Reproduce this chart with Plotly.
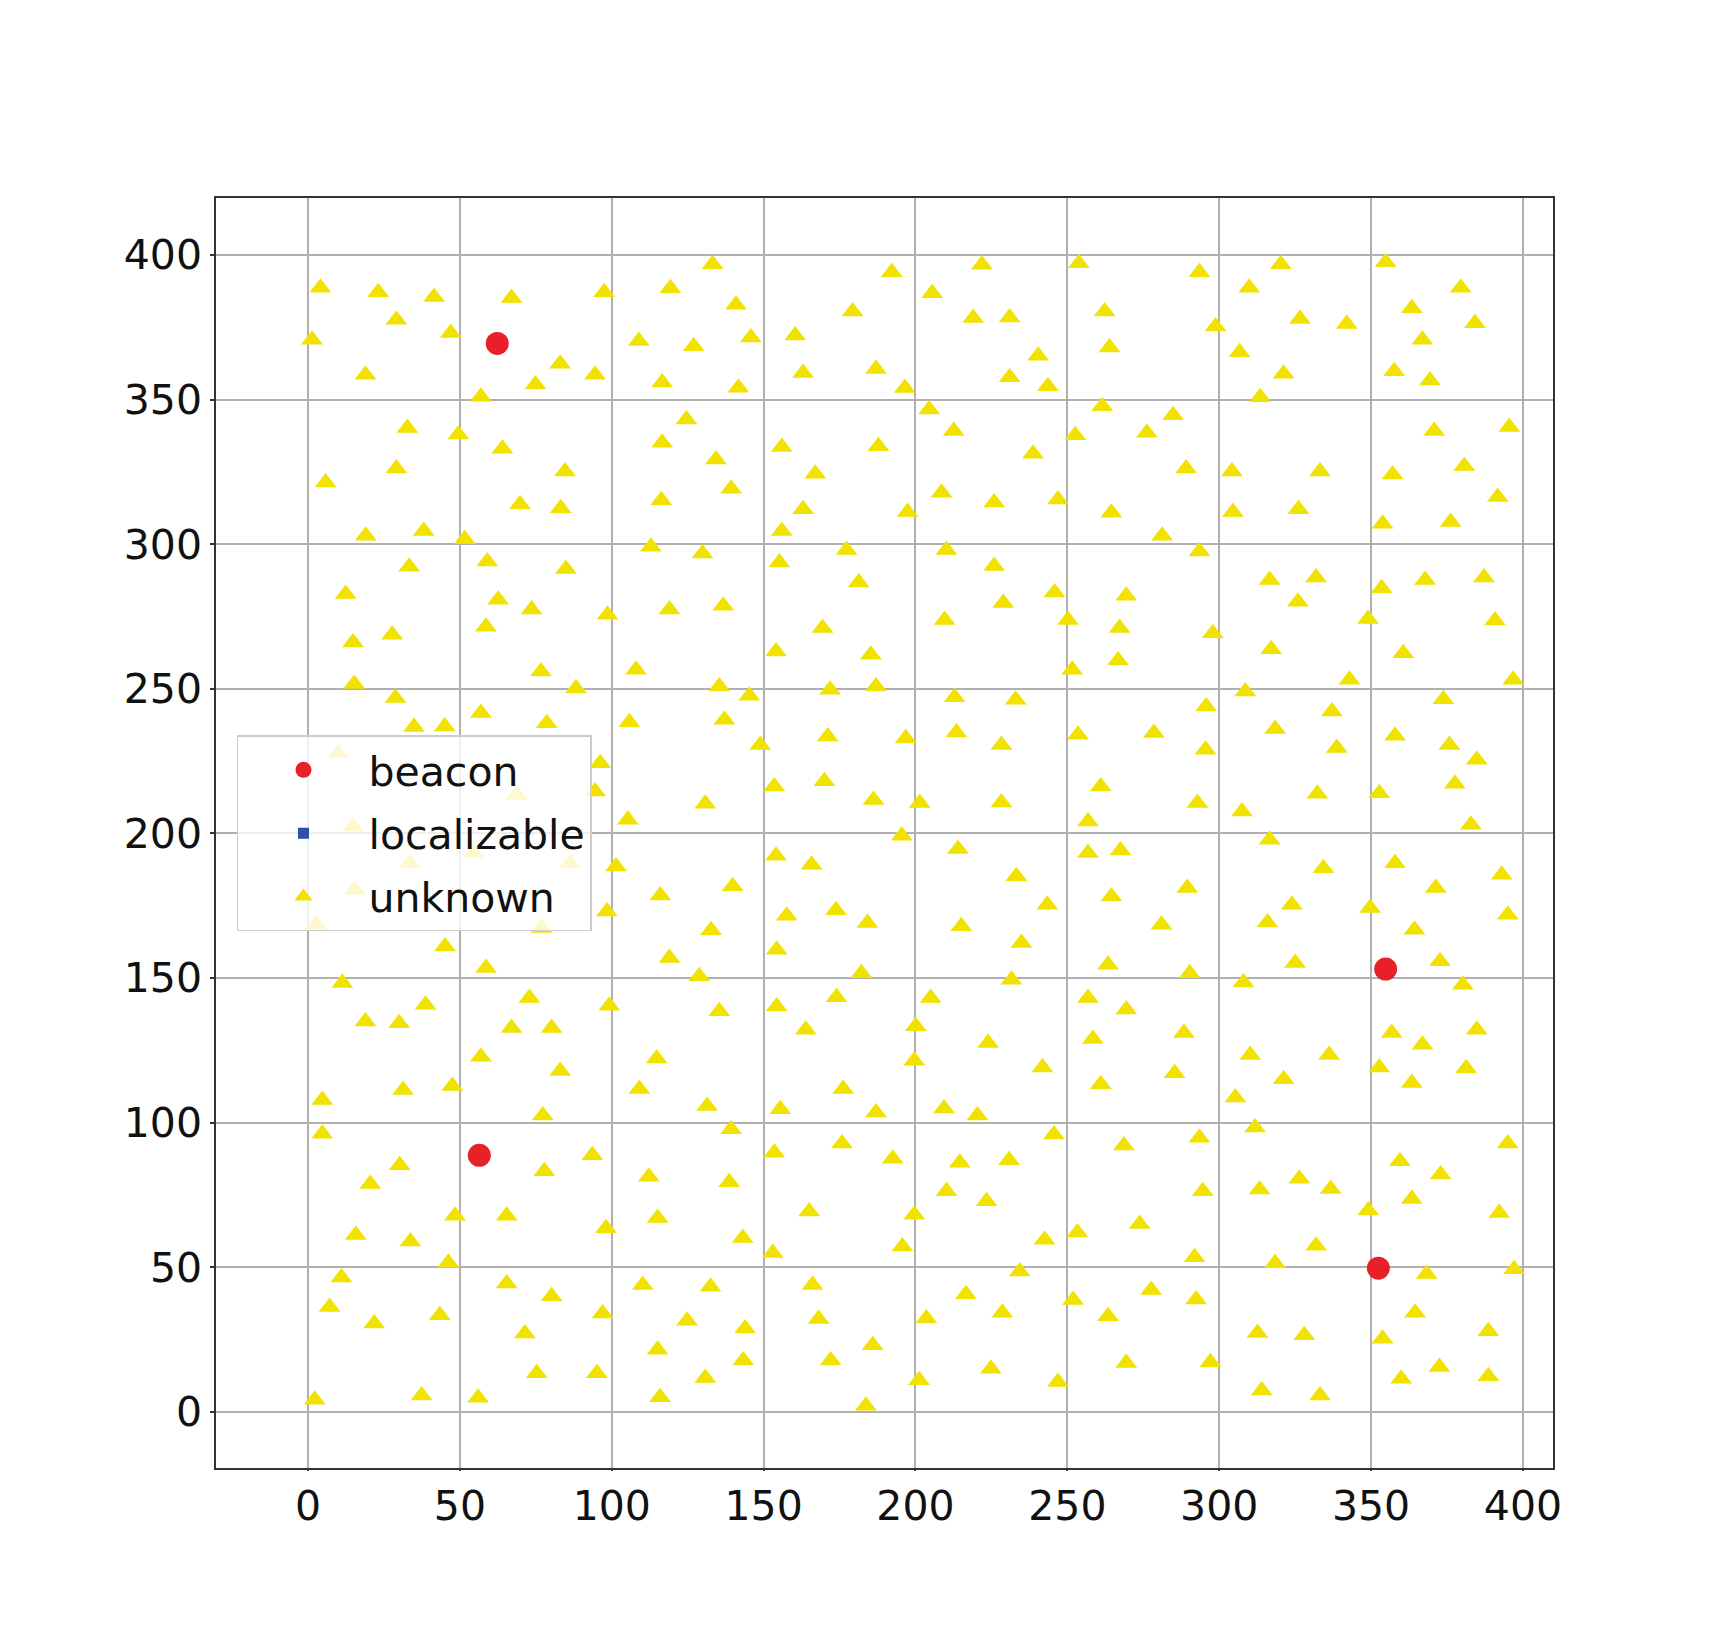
import plotly.graph_objects as go

# ---- data ----
beacon_x = [62.3, 56.4, 354.8, 352.4]
beacon_y = [369.4, 88.7, 153.1, 49.7]

# no localizable nodes in this snapshot (legend entry only)
localizable_x = [None]
localizable_y = [None]

unknown_pts = [
    # upper band (y > 273)
    (4.1,388.7),(23.1,387.1),(41.5,385.5),(67.0,385.1),(97.5,387.1),(29.1,377.6),(47.0,373.0),(1.3,370.7),
    (83.0,362.4),(94.5,358.6),(18.9,358.6),(74.9,355.2),(56.9,351.0),(32.7,340.2),(49.5,337.9),(64.0,333.0),
    (29.1,326.2),(84.6,325.1),(5.8,321.3),(69.8,313.8),(83.2,312.4),(19.0,302.9),(38.1,304.6),(51.6,301.7),
    (59.0,294.0),(33.3,292.2),(84.9,291.4),(12.4,282.8),(62.6,280.8),(73.6,277.4),(98.6,275.6),
    (133.2,396.8),(192.2,394.0),(119.3,388.5),(140.9,382.8),(179.3,380.5),(108.9,370.3),(127.0,368.4),(145.8,371.5),
    (160.4,372.2),(116.6,355.9),(141.7,354.1),(163.0,359.2),(187.0,360.6),(196.5,354.0),(124.6,343.1),(116.6,335.1),
    (156.0,333.6),(187.8,333.9),(134.3,329.3),(167.0,324.4),(139.3,319.2),(116.3,315.2),(163.0,312.1),(197.4,311.1),
    (156.0,304.6),(112.9,299.1),(129.9,296.8),(177.3,298.0),(155.2,293.7),(181.3,286.8),(119.0,277.4),(136.7,278.7),
    (221.9,396.6),(253.8,397.1),(293.5,394.0),(205.5,386.8),(219.0,378.2),(231.0,378.4),(262.3,380.5),(298.8,375.3),
    (263.9,368.0),(240.4,365.2),(231.0,357.7),(243.6,354.6),(204.5,346.6),(212.6,339.1),(238.7,331.3),(261.5,347.7),
    (284.8,344.6),(276.2,338.5),(252.6,337.7),(289.1,326.2),(208.6,317.8),(225.9,314.4),(246.9,315.5),(264.5,310.9),
    (281.2,302.9),(293.5,297.5),(210.2,298.0),(225.9,292.5),(245.8,283.3),(228.9,279.7),(269.4,282.2),(209.6,273.8),
    (250.2,273.8),
    (320.3,396.8),(354.8,397.5),(309.9,388.7),(379.5,388.7),(326.6,377.9),(342.0,376.1),(363.4,381.6),(384.2,376.4),
    (306.7,366.4),(366.9,370.7),(321.2,358.9),(357.6,359.8),(369.4,356.6),(313.5,350.8),(370.8,339.1),(395.5,340.5),
    (304.2,325.1),(333.2,325.1),(357.1,324.1),(380.7,327.0),(391.7,316.3),(304.5,311.1),(326.1,312.1),(353.8,307.1),
    (376.2,307.7),(316.6,287.6),(331.9,288.5),(353.5,284.8),(367.8,287.6),(387.2,288.5),(325.9,280.1),(349.0,274.1),
    (390.8,273.6),
    # middle band (130 < y <= 273)
    (14.8,266.0),(27.7,268.7),(58.6,271.5),(76.7,256.0),(88.2,250.2),(15.2,251.7),(28.8,246.8),(56.9,241.6),
    (78.6,238.1),(34.9,236.8),(45.0,237.0),(9.9,227.8),(96.2,224.3),(68.7,213.4),(94.5,214.5),(14.8,202.4),
    (33.5,189.7),(54.4,193.2),(86.3,189.7),(15.4,180.5),(98.4,173.0),(76.9,167.3),(2.7,168.4),(45.1,160.9),
    (58.6,153.5),(11.3,148.3),(38.7,140.8),(72.9,143.1),(18.9,135.0),(30.0,134.4),(67.0,132.7),(80.2,132.7),
    (169.4,271.0),(154.1,262.9),(185.3,261.8),(108.0,256.6),(135.4,250.8),(145.3,247.6),(171.9,249.7),(187.0,250.8),
    (105.8,238.4),(137.1,239.3),(148.9,230.6),(171.1,233.5),(196.8,232.9),(153.5,216.2),(170.0,218.0),(186.2,211.6),
    (130.8,210.3),(105.3,204.7),(195.5,199.2),(101.4,188.6),(154.1,192.3),(165.8,189.2),(116.0,178.5),(139.8,181.7),
    (157.6,171.5),(173.8,173.4),(184.2,169.0),(132.7,166.5),(154.3,159.8),(119.0,156.9),(128.8,150.6),(182.2,151.7),
    (99.2,140.4),(135.4,138.5),(154.3,140.2),(174.0,143.4),(163.9,132.1),(200.1,133.3),
    (267.2,271.0),(297.9,269.2),(251.6,256.6),(266.7,259.8),(212.9,247.1),(233.0,246.2),(295.7,243.9),(213.5,234.9),
    (228.3,230.6),(253.5,234.1),(278.5,234.7),(295.5,228.9),(261.0,216.2),(201.4,210.5),(228.3,210.7),(292.8,210.5),
    (256.8,204.1),(214.0,194.6),(256.8,193.2),(267.5,194.1),(233.2,185.2),(289.5,181.1),(264.5,178.2),(243.4,175.3),
    (215.1,167.9),(281.0,168.4),(234.9,162.1),(263.4,154.6),(290.3,151.7),(231.6,149.4),(205.0,143.1),(256.8,143.1),
    (269.4,139.1),(288.4,131.0),
    (317.1,263.7),(360.6,262.3),(342.9,253.1),(396.8,253.1),(308.6,249.1),(373.8,246.4),(337.1,242.2),(318.4,236.1),
    (357.9,233.8),(375.8,230.6),(384.8,225.5),(338.7,229.5),(332.3,213.7),(352.7,213.9),(377.6,217.2),(307.5,207.6),
    (382.9,203.0),(316.6,197.8),(334.3,188.0),(357.9,189.7),(393.0,185.7),(371.3,181.1),(323.9,175.3),(349.7,174.2),
    (315.9,169.2),(395.0,171.9),(364.3,166.7),(325.0,155.2),(372.7,155.8),(308.0,148.5),(380.2,147.7),(356.8,131.0),
    (384.8,132.1),
    # lower band (y <= 130)
    (56.9,122.8),(83.0,117.9),(4.7,107.8),(31.3,111.3),(47.5,112.7),(77.3,102.5),(4.7,96.2),(93.6,88.7),
    (30.2,85.3),(77.8,83.2),(20.5,78.8),(48.4,67.8),(65.4,67.8),(98.1,63.5),(15.7,61.2),(33.7,58.9),
    (46.2,51.6),(11.0,46.5),(65.4,44.4),(80.2,40.0),(7.1,36.3),(21.8,30.6),(43.4,33.4),(97.0,34.0),
    (71.4,27.1),(75.3,13.4),(95.1,13.4),(2.2,4.2),(37.4,5.7),(56.0,4.9),
    (114.8,122.2),(199.6,121.4),(109.1,111.6),(131.4,105.8),(155.5,104.6),(176.2,111.6),(187.0,103.5),(139.3,97.7),
    (153.5,89.6),(175.8,92.8),(192.5,87.5),(112.2,81.3),(138.7,79.4),(115.1,67.0),(165.0,69.3),(199.6,68.2),
    (143.1,60.1),(153.0,54.9),(195.7,57.2),(110.2,43.9),(132.5,43.3),(166.1,43.9),(124.8,31.5),(143.9,28.8),
    (168.1,32.1),(115.1,21.5),(143.3,17.8),(185.9,23.0),(172.1,17.8),(130.8,11.7),(201.2,10.9),(115.9,5.1),
    (183.7,2.1),
    (223.9,127.5),(241.8,119.1),(209.4,104.9),(220.4,102.5),(258.4,128.9),(285.3,117.1),(261.0,113.3),(245.6,95.9),
    (268.6,92.1),(293.5,94.8),(214.6,86.1),(230.8,87.0),(210.2,76.3),(223.4,72.8),(294.6,76.3),(273.8,65.0),
    (253.3,62.0),(242.5,59.5),(291.9,53.5),(234.3,48.5),(216.6,40.7),(277.6,42.1),(292.4,38.9),(251.9,38.7),
    (203.6,32.3),(228.6,34.3),(263.4,33.1),(269.4,16.9),(297.1,17.2),(224.8,14.9),(246.9,10.3),
    (366.9,126.9),(310.2,123.4),(336.2,123.4),(352.7,119.1),(381.3,118.8),(321.2,115.0),(363.4,113.7),(305.3,108.7),
    (311.8,98.3),(395.0,92.8),(359.5,86.7),(372.9,82.1),(313.3,76.9),(326.4,80.6),(336.7,77.1),(363.4,73.6),
    (349.1,69.6),(392.2,68.8),(331.9,57.4),(318.4,51.4),(368.3,47.7),(397.1,49.3),(364.5,34.3),(312.6,27.3),
    (328.0,26.5),(353.8,25.3),(388.6,27.9),(372.5,15.5),(359.9,11.5),(388.6,12.3),(314.0,7.4),(333.2,5.7),
]
unknown_x = [p[0] for p in unknown_pts]
unknown_y = [p[1] for p in unknown_pts]

tick_vals = [0, 50, 100, 150, 200, 250, 300, 350, 400]
tick_text = [str(v) for v in tick_vals]

# ---- figure ----
fig = go.Figure()
fig.add_trace(go.Scatter(x=beacon_x, y=beacon_y, mode="markers", name="beacon",
                         legendgroup="b",
                         marker=dict(symbol="circle", size=23, color="#e8202a")))
fig.add_trace(go.Scatter(x=localizable_x, y=localizable_y, mode="markers", name="localizable",
                         legendgroup="l",
                         marker=dict(symbol="square", size=11, color="#2f4ea8")))
fig.add_trace(go.Scatter(x=unknown_x, y=unknown_y, mode="markers", name="unknown",
                         legendgroup="u",
                         marker=dict(symbol="triangle-up", size=19, color="#f2e200")))

axis_common = dict(
    showgrid=True, gridcolor="#b0b0b0", gridwidth=1.5,
    zeroline=False, showline=True, linecolor="#333333", linewidth=1.5, mirror=True,
    ticks="outside", tickwidth=1.5, tickcolor="#333333",
    tickfont=dict(family="DejaVu Sans", size=41, color="#111111"),
    tickvals=tick_vals, ticktext=tick_text,
)
fig.update_xaxes(range=[-30.3, 409.9], ticklen=1, **axis_common)
fig.update_yaxes(range=[-19.4, 419.7], ticklen=4, **axis_common)

fig.update_layout(
    width=1725, height=1650,
    margin=dict(l=216, r=172, t=198, b=182),
    paper_bgcolor="white", plot_bgcolor="white",
    font=dict(family="DejaVu Sans", size=41, color="#111111"),
    legend=dict(
        x=0.0157, y=0.577, xanchor="left", yanchor="top",
        bgcolor="rgba(255,255,255,0.8)", bordercolor="#cccccc", borderwidth=1.5,
        font=dict(family="DejaVu Sans", size=41, color="#111111"),
        tracegroupgap=7, traceorder="grouped", itemwidth=120,
    ),
    showlegend=True,
)

fig.write_html("out.html")
